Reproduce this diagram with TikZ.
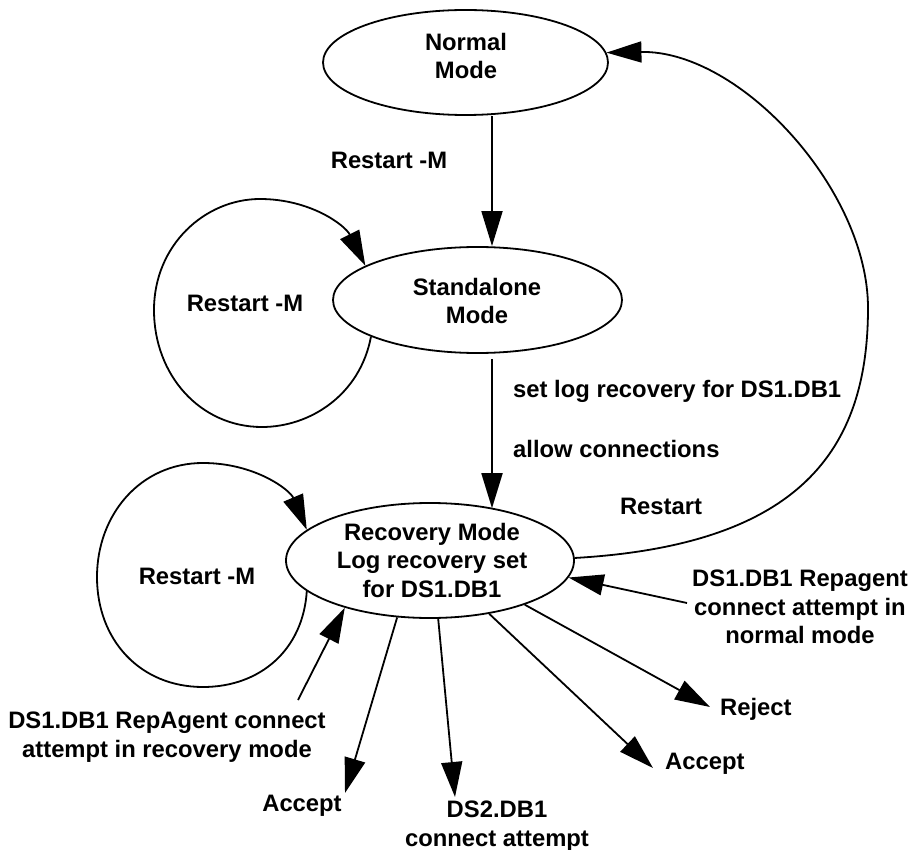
\documentclass[tikz,border=0pt]{standalone}
\usepackage{fontspec}
\setmainfont{Liberation Sans}
\usetikzlibrary{arrows.meta,shapes.geometric}

\begin{document}
\begin{tikzpicture}[x=1pt,y=-1pt,
  every node/.style={font=\bfseries\fontsize{23.8}{28.5}\selectfont, inner sep=0pt},
  state/.style={draw, ellipse, line width=1.8pt, inner sep=0pt},
  lbl/.style={anchor=north, align=center},
  arr/.style={line width=1.8pt, -{Triangle[length=35pt,width=21pt]}}
]
\path[fill=white,use as bounding box] (0,0) rectangle (913,850);

% states
\node[state, minimum width=285pt, minimum height=105pt] (norm)  at (465.5,62.5) {};
\node[state, minimum width=289pt, minimum height=106pt] (stand) at (477.5,300) {};
\node[state, minimum width=288pt, minimum height=115pt] (rec)   at (430,560.5) {};

\node[lbl] (normtext)  at (466,33)  {Normal\\Mode};
\node[lbl] (standtext) at (477,278) {Standalone\\Mode};
\node[lbl] (rectext)   at (432,523) {Recovery Mode\\Log recovery set\\for DS1.DB1};

% labels
\node[lbl] (lrm1) at (389,152) {Restart -M};
\node[lbl] (lrm2) at (245,295) {Restart -M};
\node[lbl, anchor=north west] (lset)   at (513,380) {set log recovery for DS1.DB1};
\node[lbl, anchor=north west] (lallow) at (513,440) {allow connections};
\node[lbl] (lrestart) at (661,498) {Restart};
\node[lbl] (lrm3) at (197,568) {Restart -M};
\node[lbl] (lrepn) at (800,570) {DS1.DB1 Repagent\\connect attempt in\\normal mode};
\node[lbl, anchor=north west] (lrej)  at (720,698) {Reject};
\node[lbl, anchor=north west] (lacc1) at (665,753) {Accept};
\node[lbl] (lrepr) at (167,712) {DS1.DB1 RepAgent connect\\attempt in recovery mode};
\node[lbl] (lacc2) at (302,795) {Accept};
\node[lbl] (lds2)  at (497,801) {DS2.DB1\\connect attempt};

% free ends of the outer connectors
\coordinate (ax)    at (492,0);
\coordinate (sgap)  at ([yshift=-5pt]stand.south);
\coordinate (pRepN) at (687,603);
\coordinate (pRepR) at (298,700);
\coordinate (pAcc2) at (345,793);
\coordinate (pDS2)  at (455,797);
\coordinate (pAcc1) at (653,768);
\coordinate (pRej)  at (710,707);

% main transitions
\draw[arr] (norm.south -| ax) -- (stand.north -| ax);
\draw[arr] (sgap -| ax) -- (rec.39.9 -| ax);

% restart back to normal mode
\draw[arr] (rec.1) .. controls (800,545) and (868,450) .. (868,308)
  .. controls (868,190) and (740,50) .. (norm.4.9);

% self loops
\draw[arr] (stand.-161.6) .. controls (360,395) and (310,427) .. (262,427)
  .. controls (200,427) and (154,375) .. (154,310)
  .. controls (154,245) and (205,199) .. (260,199)
  .. controls (310,199) and (345,225) .. (stand.163.9);
\draw[arr] (rec.-166) .. controls (303,650) and (260,687) .. (203,687)
  .. controls (140,687) and (97,640) .. (97,577)
  .. controls (97,515) and (140,463) .. (203,463)
  .. controls (255,463) and (290,490) .. (rec.166.8);

% connection attempts
\draw[arr] (pRepN) -- (rec.-7.6);
\draw[arr] (pRepR) -- (rec.-151);
\draw[arr] (rec.-120) -- (pAcc2);
\draw[arr] (rec.-82) -- (pDS2);
\draw[arr] (rec.-42.4) -- (pAcc1);
\draw[arr] (rec.-25.8) -- (pRej);
\end{tikzpicture}
\end{document}
